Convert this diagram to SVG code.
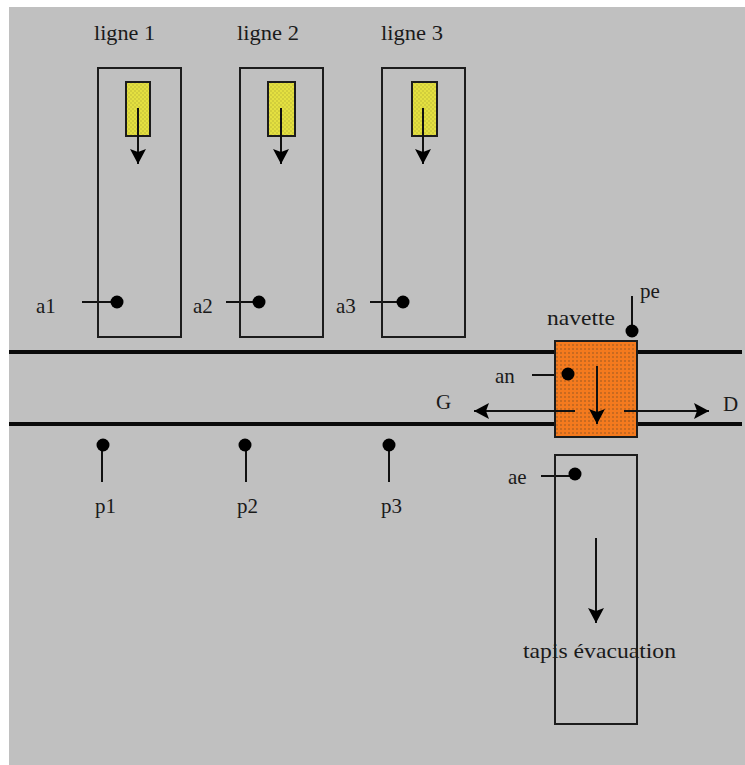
<svg xmlns="http://www.w3.org/2000/svg" width="745" height="765" viewBox="0 0 745 765">
<style>
text{font-family:"Liberation Serif","Times New Roman",serif;font-size:21px;fill:#1a1a1a}
.box{fill:none;stroke:#1c1c1c;stroke-width:2}
.ln{fill:none;stroke:#111;stroke-width:2}
.road{fill:none;stroke:#0a0a0a;stroke-width:4}
.dot{fill:#000}
</style>
<defs>
<pattern id="y" width="4" height="4" patternUnits="userSpaceOnUse"><rect width="4" height="4" fill="#e4e040"/><rect width="2" height="2" fill="#d2ce3c"/><rect x="2" y="2" width="2" height="2" fill="#d2ce3c"/></pattern>
<pattern id="o" width="4" height="4" patternUnits="userSpaceOnUse"><rect width="4" height="4" fill="#f47a1e"/><rect width="2" height="2" fill="#c86a20"/></pattern>
<marker id="a" viewBox="0 0 16 18" refX="15" refY="9" markerWidth="16" markerHeight="18" markerUnits="userSpaceOnUse" orient="auto"><path d="M0 1L15 9L0 17L3 9Z" fill="#000"/></marker>
</defs>
<rect width="745" height="765" fill="#fff"/>
<rect x="9" y="7" width="736" height="758" fill="#c0c0c0"/>
<g id="connectors">
<path class="road" d="M9 352H555M637 352H742M9 424H555M637 424H742"/>
<path class="ln" d="M82 302H117M226 302H259M370 302H403M102 445V482M246 445V482M389 445V482M632 296V330M532 375H567M541 476H575"/>
</g>
<g id="ligne1"><rect class="box" x="98" y="68" width="83" height="269"/><rect x="126" y="82" width="24" height="54" fill="url(#y)" stroke="#1c1c1c" stroke-width="2"/><path class="ln" d="M138 108V164" marker-end="url(#a)"/><circle class="dot" cx="117" cy="302" r="6.5"/><text x="94" y="40" textLength="61" lengthAdjust="spacingAndGlyphs">ligne 1</text><text x="36" y="313">a1</text></g>
<g id="ligne2"><rect class="box" x="240" y="68" width="83" height="269"/><rect x="268" y="82" width="27" height="54" fill="url(#y)" stroke="#1c1c1c" stroke-width="2"/><path class="ln" d="M281 108V164" marker-end="url(#a)"/><circle class="dot" cx="259" cy="302" r="6.5"/><text x="237" y="40" textLength="62" lengthAdjust="spacingAndGlyphs">ligne 2</text><text x="193" y="313">a2</text></g>
<g id="ligne3"><rect class="box" x="382" y="68" width="83" height="269"/><rect x="412" y="82" width="25" height="54" fill="url(#y)" stroke="#1c1c1c" stroke-width="2"/><path class="ln" d="M423 108V164" marker-end="url(#a)"/><circle class="dot" cx="403" cy="302" r="6.5"/><text x="381" y="40" textLength="62" lengthAdjust="spacingAndGlyphs">ligne 3</text><text x="336" y="313">a3</text></g>
<g id="navette"><rect x="555" y="341" width="82" height="96" fill="url(#o)" stroke="#1c1c1c" stroke-width="2"/><path class="ln" d="M597 366V424" marker-end="url(#a)"/><path class="ln" d="M575 411H474" marker-end="url(#a)"/><path class="ln" d="M624 411H709" marker-end="url(#a)"/><circle class="dot" cx="568" cy="374" r="6.5"/><text x="547" y="325" textLength="68" lengthAdjust="spacingAndGlyphs">navette</text><text x="495" y="383">an</text></g>
<g id="pe"><circle class="dot" cx="632" cy="331" r="6.5"/><text x="640" y="298">pe</text></g>
<g id="G"><text x="436" y="409">G</text></g>
<g id="D"><text x="723" y="411">D</text></g>
<g id="p1"><circle class="dot" cx="103" cy="445" r="6.5"/><text x="95" y="513">p1</text></g>
<g id="p2"><circle class="dot" cx="245" cy="445" r="6.5"/><text x="237" y="513">p2</text></g>
<g id="p3"><circle class="dot" cx="389" cy="445" r="6.5"/><text x="381" y="513">p3</text></g>
<g id="evacuation"><rect class="box" x="555" y="455" width="82" height="269"/><circle class="dot" cx="575" cy="474" r="6.5"/><path class="ln" d="M596 538V623" marker-end="url(#a)"/><text x="508" y="484">ae</text><text x="523" y="658" textLength="153" lengthAdjust="spacingAndGlyphs">tapis évacuation</text></g>
</svg>
